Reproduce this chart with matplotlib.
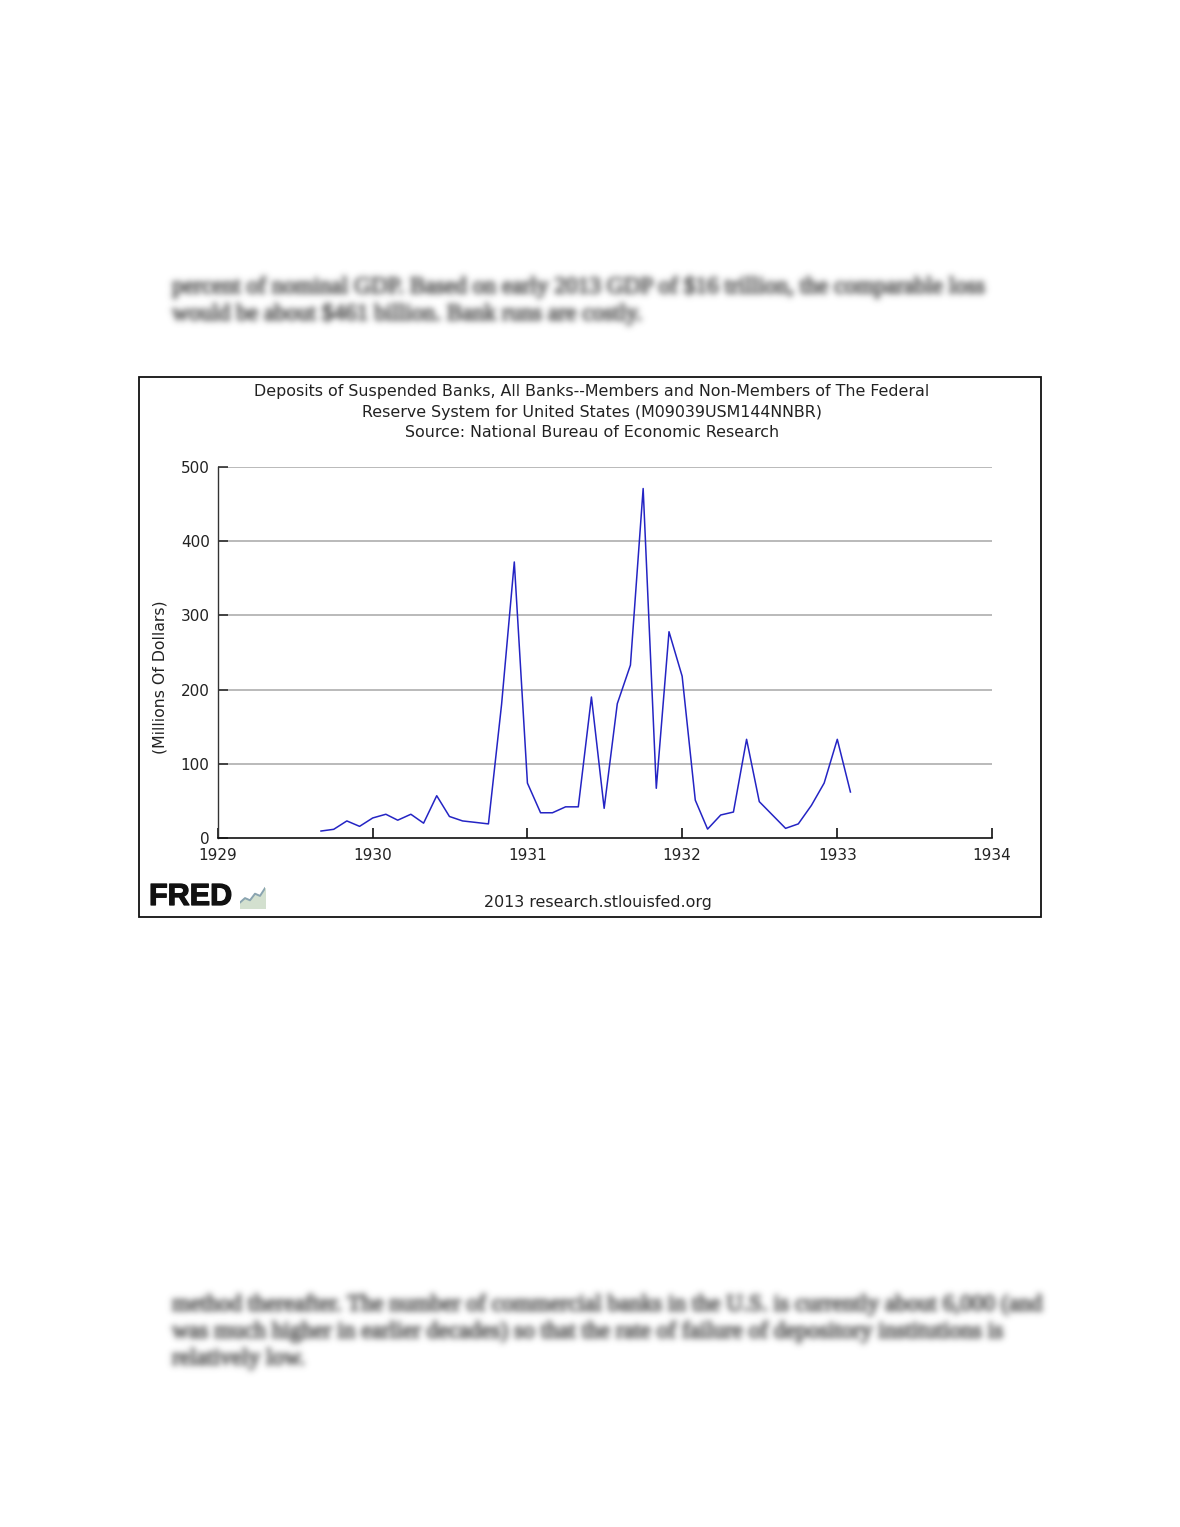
import matplotlib
matplotlib.use("Agg")
import matplotlib.pyplot as plt
import matplotlib.dates as mdates
import matplotlib.patheffects as pe
from matplotlib.patches import Rectangle
import numpy as np
import pandas as pd

# Datos mensuales (millones de dólares), sep 1929 - feb 1933
meses = pd.date_range("1929-09-01", periods=42, freq="MS")
depositos = [
    9.4, 11.7, 23, 15.7,
    27, 32, 24, 32, 20, 57, 29, 23, 21, 19, 180, 372,
    74, 34, 34, 42, 42, 190, 40, 181, 233, 471, 67, 278,
    218, 51, 12, 31, 35, 133, 49, 31, 13, 19, 44, 74,
    133, 62,
]
anios = [1929, 1930, 1931, 1932, 1933, 1934]
y_ticks = [0, 100, 200, 300, 400, 500]

titulo = ("Deposits of Suspended Banks, All Banks--Members and Non-Members of The Federal\n"
          "Reserve System for United States (M09039USM144NNBR)\n"
          "Source: National Bureau of Economic Research")

texto_arriba = [
    "percent of nominal GDP. Based on early 2013 GDP of $16 trillion, the comparable loss",
    "would be about $461 billion. Bank runs are costly.",
]
texto_abajo = [
    "method thereafter. The number of commercial banks in the U.S. is currently about 6,000 (and",
    "was much higher in earlier decades) so that the rate of failure of depository institutions is",
    "relatively low.",
]

# icono pequeño junto al logo
icono = [1, 1.8, 1.4, 2.6, 2.2, 3.6]

W, H = 1180, 1527


class Desenfoque:
    """Filtro gaussiano para simular el texto borroso de la página."""

    def __init__(self, sigma, color):
        self.sigma = sigma
        self.color = matplotlib.colors.to_rgb(color)

    def __call__(self, im, dpi):
        s = self.sigma
        pad = int(3 * s) + 1
        alpha = np.pad(im[..., 3], pad)
        k = np.exp(-0.5 * (np.arange(-pad, pad + 1) / s) ** 2)
        k /= k.sum()
        tmp = np.zeros_like(alpha)
        for i, w in enumerate(k):
            tmp += w * np.roll(alpha, i - pad, axis=0)
        out_a = np.zeros_like(alpha)
        for i, w in enumerate(k):
            out_a += w * np.roll(tmp, i - pad, axis=1)
        out = np.zeros(alpha.shape + (4,))
        out[..., :3] = self.color
        out[..., 3] = np.clip(out_a * 1.1, 0, 1)
        return out, -pad, -pad


fig = plt.figure(figsize=(W / 100, H / 100), dpi=100)
fig.patch.set_facecolor("white")


def fx(px):
    return px / W


def fy(py):
    return 1 - py / H


# texto borroso de la página
for bloque, y0 in [(texto_arriba, 287), (texto_abajo, 1305)]:
    for i, linea in enumerate(bloque):
        t = fig.text(fx(172), fy(y0 + 27 * i), linea, family="Liberation Serif",
                     fontsize=16.8, color="#666666", va="center", ha="left",
                     path_effects=[pe.withStroke(linewidth=1.0, foreground="#666666")])
        t.set_agg_filter(Desenfoque(3.2, "#6a6a6a"))

# marco del gráfico
fig.patches.append(Rectangle((fx(139), fy(917)), fx(1041) - fx(139), fy(377) - fy(917),
                             transform=fig.transFigure, fill=False,
                             edgecolor="#111111", linewidth=1.3))

ax = fig.add_axes([fx(218), fy(838), fx(992) - fx(218), fy(467) - fy(838)])
ax.plot(meses, depositos, color="#2424c4", linewidth=1.1)

ax.set_xlim(pd.Timestamp("1929-01-01"), pd.Timestamp("1934-01-01"))
ax.set_ylim(0, 500)
ax.set_xticks([pd.Timestamp(f"{a}-01-01") for a in anios])
ax.xaxis.set_major_formatter(mdates.DateFormatter("%Y"))
ax.set_yticks(y_ticks)

for v in y_ticks[1:]:
    ax.axhline(v, color="#b4b4b4", linewidth=1.3, zorder=0)

for lado in ["top", "right"]:
    ax.spines[lado].set_visible(False)
ax.spines["bottom"].set_color("#111111")
ax.spines["bottom"].set_linewidth(1.2)
ax.spines["left"].set_color("#333333")
ax.spines["left"].set_linewidth(1.0)

ax.tick_params(axis="x", direction="in", length=7, width=1.2, color="#111111",
               labelsize=11, labelcolor="#222222", pad=7)
ax.tick_params(axis="y", direction="in", length=7, width=1.1, color="#222222",
               labelsize=11, labelcolor="#222222", pad=6)

fig.text(fx(592), fy(412), titulo, ha="center", va="center", fontsize=11.4,
         color="#222222", linespacing=1.42, family="DejaVu Sans")
fig.text(fx(160), fy(677), "(Millions Of Dollars)", rotation=90, ha="center",
         va="center", fontsize=11.3, color="#222222")
fig.text(fx(598), fy(902), "2013 research.stlouisfed.org", ha="center", va="center",
         fontsize=11.4, color="#222222")
fig.text(fx(149), fy(897), "FRED", ha="left", va="center", fontsize=22,
         fontweight="bold", family="Liberation Sans", color="#111111",
         path_effects=[pe.withStroke(linewidth=0.9, foreground="#111111")])

# icono del logo
ax_ic = fig.add_axes([fx(240), fy(908), 25 / W, 22 / H])
ax_ic.plot(range(len(icono)), icono, color="#8aa4b0", linewidth=1.4)
ax_ic.fill_between(range(len(icono)), icono, 0, color="#d3e0cf")
ax_ic.set_xlim(0, len(icono) - 1)
ax_ic.set_ylim(0, 4)
ax_ic.axis("off")

fig.savefig("out.png", dpi=100, facecolor="white")
